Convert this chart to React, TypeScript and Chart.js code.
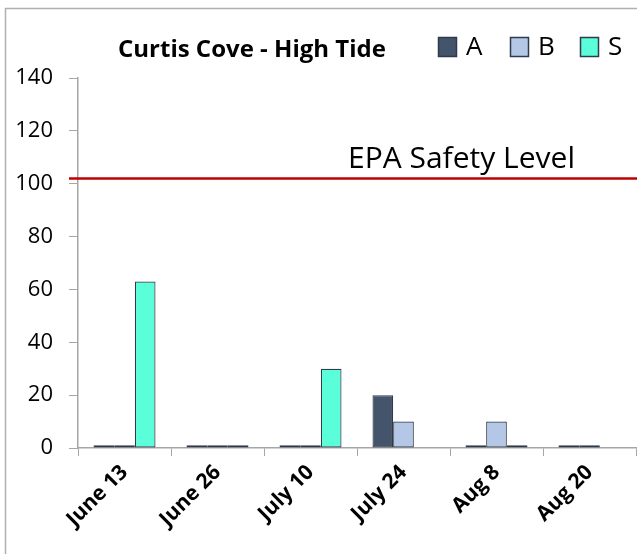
import React, { useEffect, useRef } from "react";
import { Chart, registerables } from "chart.js";

Chart.register(...registerables);

const categories = ["June 13", "June 26", "July 10", "July 24", "Aug 8", "Aug 20"];
const seriesA = [1, 1, 1, 20, 1, 1];
const seriesB = [1, 1, 1, 10, 10, 1];
const seriesS = [63, 1, 30, null, 1, null];
const seriesLabels = ["A", "B", "S"];
const yTicks = [0, 20, 40, 60, 80, 100, 120, 140];
const epaLevel = 102;
const chartTitle = "Curtis Cove - High Tide";
const epaLabel = "EPA Safety Level";

const FONT = "'Open Sans', Lato, sans-serif";
const colors = ["#44546a", "#b4c7e7", "#5affd9"];
const borderCol = "#2f3a4a";
const axisCol = "#a6a6a6";

const decorPlugin = {
  id: "decor",
  beforeDraw(chart: any) {
    const ctx = chart.ctx;
    ctx.save();
    ctx.fillStyle = "#ffffff";
    ctx.fillRect(0, 0, chart.width, chart.height);
    ctx.strokeStyle = "#b0b0b0";
    ctx.lineWidth = 1.5;
    ctx.strokeRect(5.5, 8.5, chart.width + 20, chart.height + 20);
    ctx.restore();
  },
  afterDraw(chart: any) {
    const ctx = chart.ctx;
    const y = chart.scales.y.getPixelForValue(epaLevel);
    const area = chart.chartArea;
    ctx.save();
    // EPA line
    ctx.strokeStyle = "#c00000";
    ctx.lineWidth = 2.5;
    ctx.beginPath();
    ctx.moveTo(area.left - 9, y);
    ctx.lineTo(chart.width, y);
    ctx.stroke();
    ctx.fillStyle = "#000000";
    ctx.font = `30px ${FONT}`;
    ctx.textAlign = "left";
    ctx.textBaseline = "alphabetic";
    ctx.fillText(epaLabel, 348, y - 10);

    // title
    ctx.font = `bold 24px ${FONT}`;
    ctx.textAlign = "left";
    ctx.fillStyle = "#000000";
    ctx.fillText(chartTitle, 118, 57);

    // legend
    const itemX = [438, 510, 580];
    chart.data.datasets.forEach((ds: any, i: number) => {
      const x = itemX[i];
      ctx.fillStyle = ds.backgroundColor;
      ctx.fillRect(x, 37, 19, 20);
      ctx.strokeStyle = borderCol;
      ctx.lineWidth = 1.5;
      ctx.strokeRect(x + 0.5, 37.5, 18, 19);
      ctx.fillStyle = "#000000";
      ctx.font = `26px ${FONT}`;
      ctx.textAlign = "left";
      ctx.fillText(ds.label, x + 28, 55);
    });
    ctx.restore();
  },
};

export default function App() {
  const ref = useRef<HTMLCanvasElement | null>(null);
  useEffect(() => {
    if (!ref.current) return;
    const data = [seriesA, seriesB, seriesS];
    const chart = new Chart(ref.current, {
      type: "bar",
      data: {
        labels: categories,
        datasets: seriesLabels.map((l, i) => ({
          label: l,
          data: data[i] as any,
          backgroundColor: colors[i],
          borderColor: borderCol,
          borderWidth: 1.2,
          borderSkipped: false,
          barPercentage: 1,
          categoryPercentage: 0.667,
        })),
      },
      options: {
        responsive: false,
        animation: false,
        layout: { padding: { left: 0, right: 1, top: 78, bottom: 0 } },
        plugins: {
          legend: { display: false },
          title: { display: false },
          tooltip: { enabled: false },
        },
        scales: {
          x: {
            grid: {
              drawOnChartArea: false,
              drawTicks: true,
              tickLength: 8,
              color: axisCol,
              offset: true,
            },
            border: { color: axisCol, width: 1.5 },
            ticks: {
              color: "#000000",
              font: { family: FONT, size: 21, weight: "bold" },
              minRotation: 45,
              maxRotation: 45,
              padding: 4,
            },
            afterFit(scale: any) {
              scale.height = 106;
            },
          },
          y: {
            min: 0,
            max: 140,
            afterBuildTicks(scale: any) {
              scale.ticks = yTicks.map((v) => ({ value: v }));
            },
            grid: {
              drawOnChartArea: false,
              drawTicks: true,
              tickLength: 9,
              color: axisCol,
            },
            border: { color: axisCol, width: 1.5 },
            ticks: {
              color: "#000000",
              font: { family: FONT, size: 22 },
              padding: 16,
            },
            afterFit(scale: any) {
              scale.width = 78;
            },
          },
        },
      },
      plugins: [decorPlugin],
    });
    return () => chart.destroy();
  }, []);
  return (
    <div style={{ position: "absolute", left: 0, top: 0, width: 637, height: 554 }}>
      <canvas ref={ref} width={637} height={554} style={{ width: 637, height: 554, display: "block" }} />
    </div>
  );
}
